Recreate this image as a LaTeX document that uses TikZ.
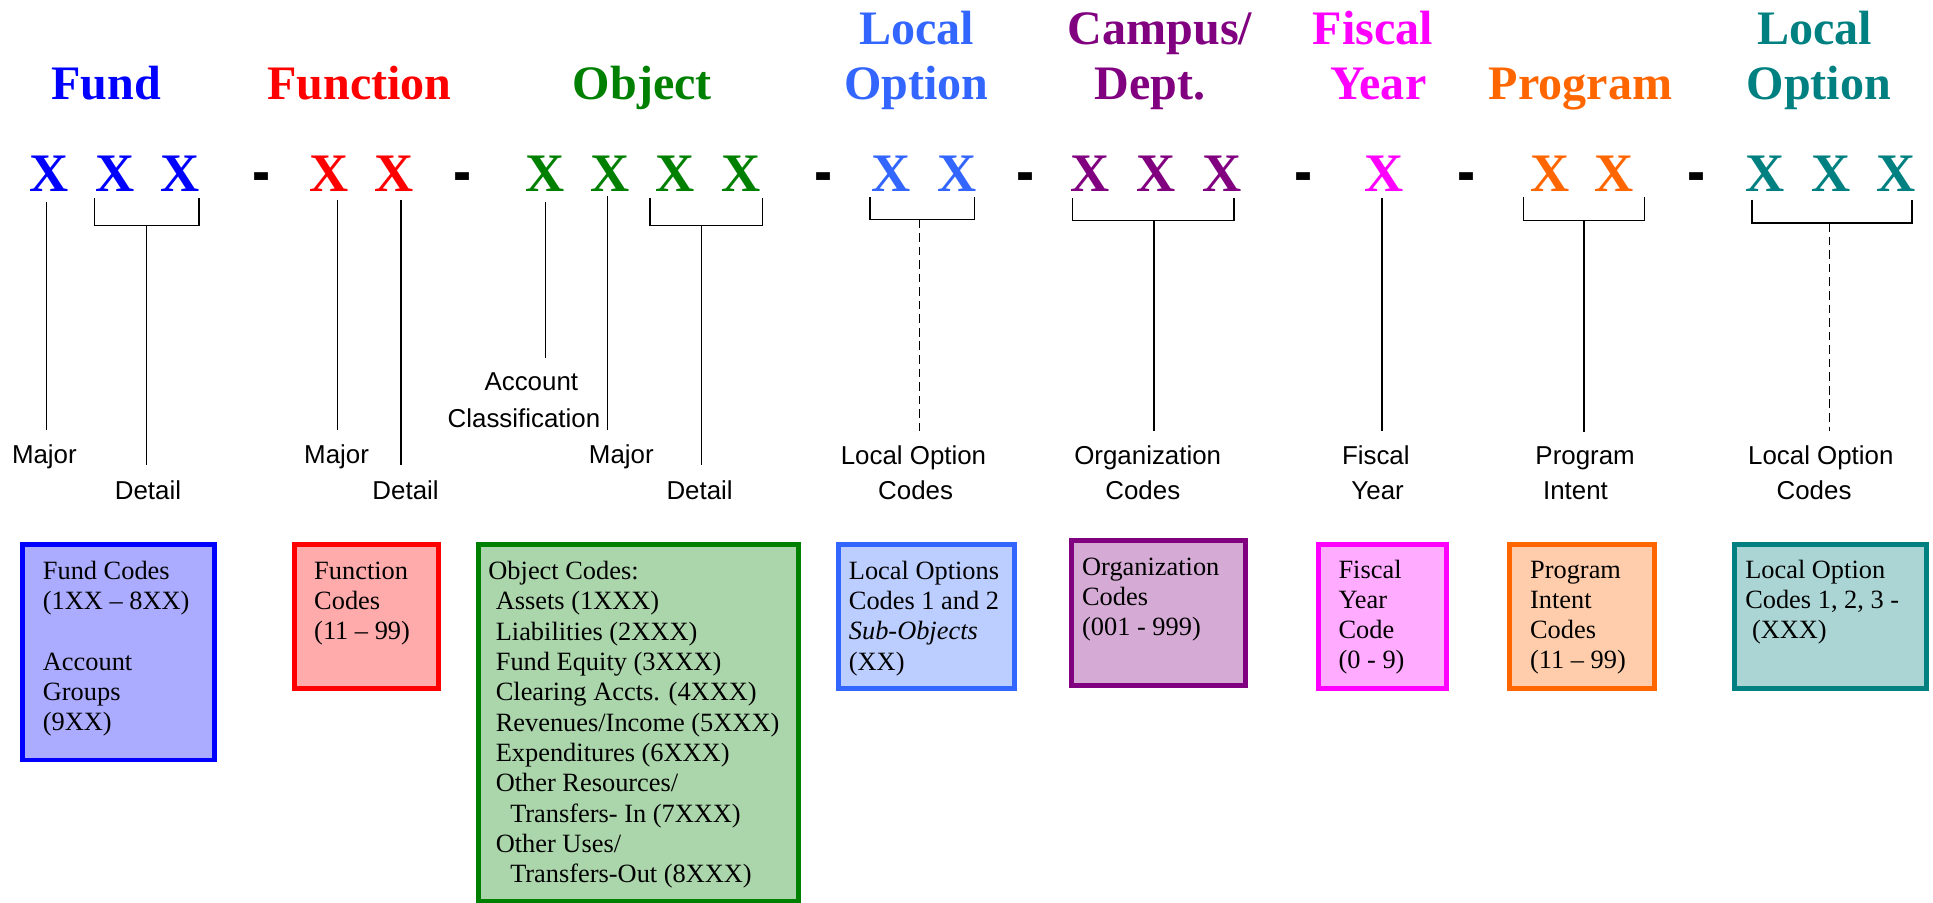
\documentclass[tikz,border=0pt]{standalone}
\usepackage{fontspec}
\usepackage{graphicx}
\setmainfont{Liberation Serif}
\newfontfamily\lsans{Liberation Sans}
\usetikzlibrary{calc}
\definecolor{cfund}{HTML}{0000FF}
\definecolor{cfunc}{HTML}{FF0000}
\definecolor{cobj}{HTML}{008000}
\definecolor{cloc}{HTML}{3366FF}
\definecolor{ccamp}{HTML}{800080}
\definecolor{cfis}{HTML}{FF00FF}
\definecolor{cprog}{HTML}{FF6600}
\definecolor{cloctwo}{HTML}{008080}
\newcommand{\codelines}[4]{%
  \foreach \t [count=\i] in {#4} {\node[bt] (#1-\i) at (#2, {#3+(\i-1)*24.5}) {\t};}}
\begin{document}
\begin{tikzpicture}[x=1pt,y=-1pt,
  head/.style={font=\bfseries\fontsize{39}{45}\selectfont, inner sep=0pt, anchor=base},
  xx/.style={font=\bfseries\fontsize{44}{44}\selectfont, inner xsep=0pt, inner ysep=6pt, anchor=base},
  sepdash/.style={font=\lsans\bfseries\fontsize{53}{53}\selectfont, inner sep=0pt, anchor=base},
  lab/.style={font=\lsans\fontsize{21}{24}\selectfont, inner xsep=0pt, inner ysep=12pt, anchor=base},
  conn/.style={line width=1.2pt},
  dconn/.style={line width=1.2pt, dash pattern=on 7pt off 4pt},
  codebox/.style={line width=4pt, draw=#1, fill=#1!33!white, inner sep=0pt, anchor=north west},
  bt/.style={font=\fontsize{21.4}{24.5}\selectfont, inner sep=0pt, anchor=base west},
]
\useasboundingbox (0,0) rectangle (1568,732);

% ---------- headings ----------
\node[head, text=cfund] (hfund) at (86,81) {Fund};
\node[head, text=cfunc] (hfunc) at (291.6,81) {Function};
\node[head, text=cobj] (hobj) at (521,81) {Object};
\node[head, text=cloc] (hloca) at (743.5,36) {Local};
\node[head, text=cloc] (hlocb) at (743.5,81) {Option};
\node[head, text=ccamp] (hcampa) at (941,36) {Campus/};
\node[head, text=ccamp] (hcampb) at (933,81) {Dept.};
\node[head, text=cfis] (hfisa) at (1113.5,36) {Fiscal};
\node[head, text=cfis] (hfisb) at (1118,81) {Year};
\node[head, text=cprog] (hprog) at (1282,81) {Program};
\node[head, text=cloctwo] (hlocta) at (1472,36) {Local};
\node[head, text=cloctwo] (hloctb) at (1475.5,81) {Option};

% ---------- X row ----------
\node[xx, text=cfund] (fx1) at (40.2,155) {X};
\node[xx, text=cfund] (fx2) at (93.3,155) {X};
\node[xx, text=cfund] (fx3) at (146,155) {X};
\node[xx, text=cfunc] (ux1) at (267.3,155) {X};
\node[xx, text=cfunc] (ux2) at (320,155) {X};
\node[xx, text=cobj] (ox1) at (441.8,155) {X};
\node[xx, text=cobj] (ox2) at (494.8,155) {X};
\node[xx, text=cobj] (ox3) at (547.9,155) {X};
\node[xx, text=cobj] (ox4) at (601,155) {X};
\node[xx, text=cloc] (lx1) at (722.6,155) {X};
\node[xx, text=cloc] (lx2) at (776,155) {X};
\node[xx, text=ccamp] (cx1) at (884,155) {X};
\node[xx, text=ccamp] (cx2) at (938,155) {X};
\node[xx, text=ccamp] (cx3) at (991,155) {X};
\node[xx, text=cfis] (yx1) at (1123,155) {X};
\node[xx, text=cprog] (px1) at (1257,155) {X};
\node[xx, text=cprog] (px2) at (1309,155) {X};
\node[xx, text=cloctwo] (tx1) at (1432,155) {X};
\node[xx, text=cloctwo] (tx2) at (1485,155) {X};
\node[xx, text=cloctwo] (tx3) at (1538,155) {X};

% dashes
\foreach \dx [count=\k] in {212.3,375,668,831.8,1057,1190,1376}
  \node[sepdash] (dash\k) at (\dx,157) {\scalebox{0.83}[1]{-}};

% ---------- labels ----------
\node[lab] (fmaj) at (36,376) {Major};
\node[lab] (fdet) at (120,405) {Detail};
\node[lab] (umaj) at (273,376) {Major};
\node[lab] (udet) at (329,405) {Detail};
\node[lab] (oacc) at (431,317) {Account};
\node[lab] (ocls) at (425,347) {Classification};
\node[lab] (omaj) at (504,376) {Major};
\node[lab] (odet) at (567.5,405) {Detail};
\node[lab] (lloa) at (741,377) {Local Option};
\node[lab] (llob) at (742.7,405) {Codes};
\node[lab] (corga) at (931,377) {Organization};
\node[lab] (corgb) at (927,405) {Codes};
\node[lab] (yfisa) at (1116,377) {Fiscal};
\node[lab] (yfisb) at (1117.5,405) {Year};
\node[lab] (ppra) at (1285.8,377) {Program};
\node[lab] (pprb) at (1278,405) {Intent};
\node[lab] (tloa) at (1477,377) {Local Option};
\node[lab] (tlob) at (1471.5,405) {Codes};

% ---------- connectors ----------
% Fund
\coordinate (fl1) at (37.9,164);
\draw[conn] (fl1) -- (fl1 |- fmaj.north);
\coordinate (fbL) at (76.8,161); \coordinate (fbM) at (119,183); \coordinate (fbR) at (161.4,161);
\draw[conn] (fbL) |- (fbM) -| (fbR);
\draw[conn] (fbM) -- (fbM |- fdet.north);
% Function
\coordinate (ul1) at (273.6,162); \coordinate (ul2) at (325.3,162);
\draw[conn] (ul1) -- (ul1 |- umaj.north);
\draw[conn] (ul2) -- (ul2 |- udet.north);
% Object
\coordinate (ol1) at (442.7,164); \coordinate (ol2) at (492.6,159);
\draw[conn] (ol1) -- (ol1 |- oacc.north);
\draw[conn] (ol2) -- (ol2 |- omaj.north);
\coordinate (obL) at (527.3,161); \coordinate (obM) at (569,183); \coordinate (obR) at (618.7,161);
\draw[conn] (obL) |- (obM) -| (obR);
\draw[conn] (obM) -- (obM |- odet.north);
% Local option
\coordinate (lbL) at (705.8,160); \coordinate (lbM) at (746,178); \coordinate (lbR) at (790.6,160);
\draw[conn] (lbL) |- (lbM) -| (lbR);
\draw[dconn] (lbM) -- (lbM |- lloa.north);
% Campus
\coordinate (cbL) at (870,160.5); \coordinate (cbM) at (936,179); \coordinate (cbR) at (1001,160.5);
\draw[conn] (cbL) |- (cbM) -| (cbR);
\draw[conn] (cbM) -- (cbM |- corga.north);
% Fiscal
\coordinate (yl1) at (1121,161);
\draw[conn] (yl1) -- (yl1 |- yfisa.north);
% Program
\coordinate (pbL) at (1236,160); \coordinate (pbM) at (1285,179); \coordinate (pbR) at (1334,160);
\draw[conn] (pbL) |- (pbM) -| (pbR);
\draw[conn] (pbM) -- (pbM |- ppra.north);
% Local option 2
\coordinate (tbL) at (1421,162); \coordinate (tbM) at (1484,181); \coordinate (tbR) at (1551,162);
\draw[conn] (tbL) |- (tbM) -| (tbR);
\draw[dconn] (tbM) -- (tbM |- tloa.north);

% ---------- code boxes ----------
\node[codebox=cfund, minimum width=156pt, minimum height=175pt] (fbox) at (16,439.5) {};
\node[codebox=cfunc, minimum width=116.9pt, minimum height=116.9pt] (ubox) at (236.7,439.5) {};
\node[codebox=cobj, minimum width=259.6pt, minimum height=289.5pt] (obox) at (386,439.5) {};
\node[codebox=cloc, minimum width=143pt, minimum height=116.9pt] (lbox) at (678,439.5) {};
\node[codebox=ccamp, minimum width=141pt, minimum height=117.4pt] (cbox) at (867,436.8) {};
\node[codebox=cfis, minimum width=104.2pt, minimum height=116.9pt] (ybox) at (1067.3,439.5) {};
\node[codebox=cprog, minimum width=117.1pt, minimum height=116.9pt] (pbox) at (1222.8,439.5) {};
\node[codebox=cloctwo, minimum width=156.1pt, minimum height=116.9pt] (tbox) at (1404.8,439.5) {};

% ---------- box texts ----------
\codelines{fta}{34.6}{470}{Fund Codes, (1XX – 8XX)}
\codelines{ftb}{34.6}{543.5}{Account, Groups, (9XX)}
\codelines{ut}{254.7}{470}{Function, Codes, (11 – 99)}
\node[bt] (ot-1) at (396,470) {Object Codes:};
\foreach \t [count=\i from 2] in {Assets (1XXX), Liabilities (2XXX), Fund Equity (3XXX), Clearing Accts. (4XXX), Revenues/Income (5XXX), Expenditures (6XXX), Other Resources/}
  \node[bt] (ot-\i) at (402, {470+(\i-1)*24.6}) {\t};
\node[bt] (ot-9) at (413.7,{470+8*24.6}) {Transfers- In (7XXX)};
\node[bt] (ot-10) at (402,{470+9*24.6}) {Other Uses/};
\node[bt] (ot-11) at (413.7,{470+10*24.6}) {Transfers-Out (8XXX)};
\codelines{lt}{688.4}{470}{Local Options, Codes 1 and 2, {\itshape Sub-Objects}, (XX)}
\codelines{ct}{877.6}{466.5}{Organization, Codes, (001 - 999)}
\codelines{yt}{1085.6}{469}{Fiscal, Year, Code, (0 - 9)}
\codelines{pt}{1241}{469}{Program, Intent, Codes, (11 – 99)}
\codelines{tt}{1415.5}{469}{Local Option, {Codes 1, 2, 3 -}}
\node[bt] (tt-3) at (1421,518) {(XXX)};
\end{tikzpicture}
\end{document}
